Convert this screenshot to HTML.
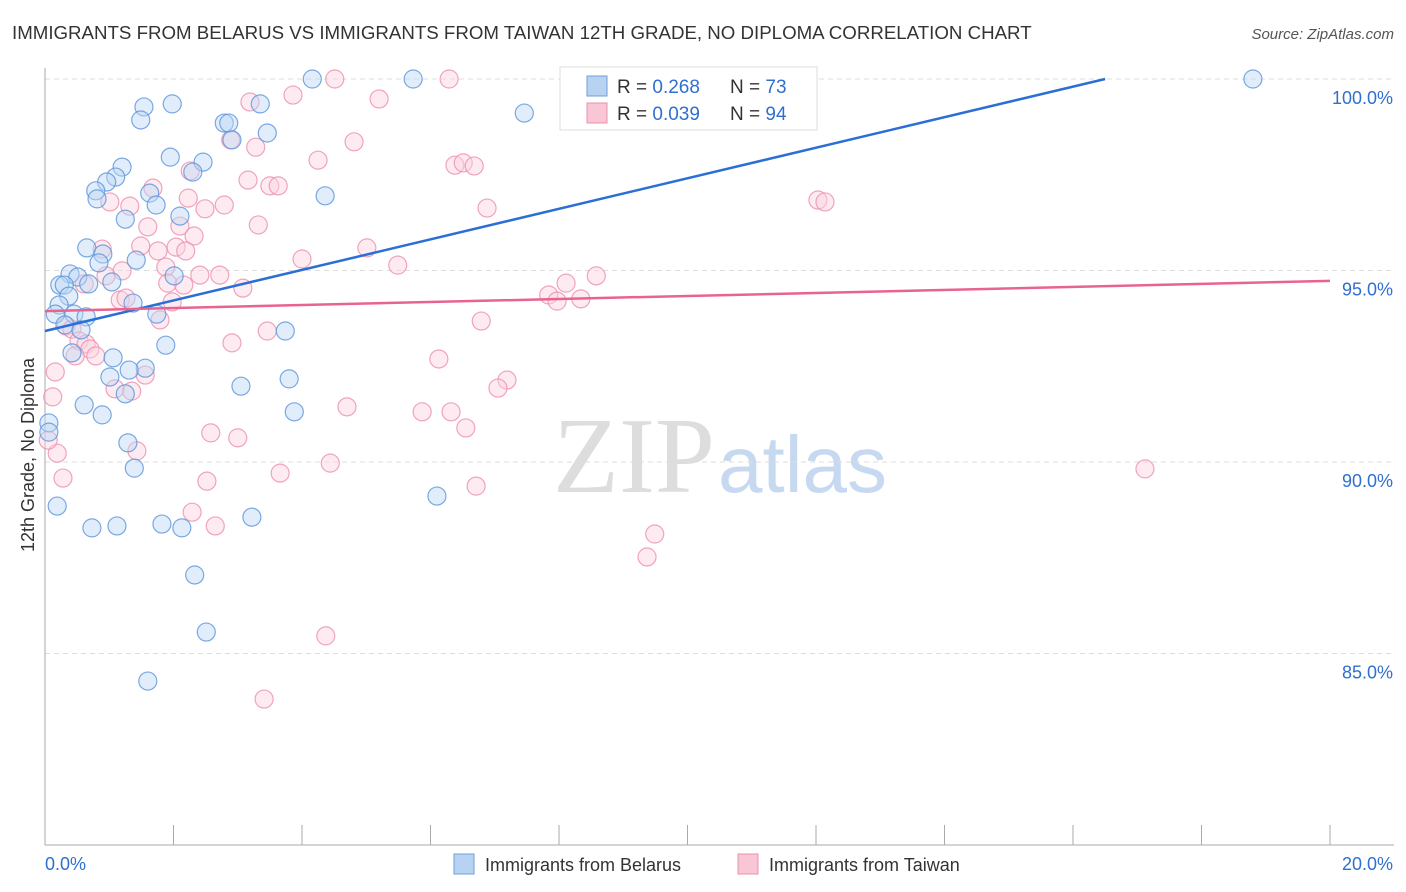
<!DOCTYPE html>
<html><head><meta charset="utf-8"><style>
body{margin:0;background:#fff;font-family:"Liberation Sans",sans-serif}
svg{display:block}
</style></head><body>
<svg id="chart" width="1406" height="892">
<text x="12" y="39" font-size="18.7" fill="#333">IMMIGRANTS FROM BELARUS VS IMMIGRANTS FROM TAIWAN 12TH GRADE, NO DIPLOMA CORRELATION CHART</text>
<text x="1394" y="39" font-size="15" fill="#555" font-style="italic" text-anchor="end">Source: ZipAtlas.com</text>
<text x="0" y="0" transform="translate(34,455) rotate(-90)" font-size="18" fill="#333" text-anchor="middle">12th Grade, No Diploma</text>
<g><text x="553" y="492" font-size="108" fill="#ddd" font-family="Liberation Serif,serif">ZIP</text><text x="718" y="492" font-size="80" fill="#c7d9f0">atlas</text></g>
<g id="grid"></g><g id="marks"></g>
<g>
<rect x="560" y="67" width="257" height="63" fill="#fff" stroke="#ddd"/>
<rect x="587" y="76" width="20" height="20" fill="#b8d2f2" stroke="#6e9fdc"/>
<rect x="587" y="103" width="20" height="20" fill="#f9c6d5" stroke="#e891ab"/>
<text x="617" y="93" font-size="19" fill="#333">R = <tspan fill="#2f6fd0">0.268</tspan></text>
<text x="730" y="93" font-size="19" fill="#333">N = <tspan fill="#2f6fd0">73</tspan></text>
<text x="617" y="120" font-size="19" fill="#333">R = <tspan fill="#2f6fd0">0.039</tspan></text>
<text x="730" y="120" font-size="19" fill="#333">N = <tspan fill="#2f6fd0">94</tspan></text>
</g>
<g>
<rect x="454" y="854" width="20" height="20" fill="#b8d2f2" stroke="#6e9fdc"/>
<text x="485" y="871" font-size="18" fill="#333">Immigrants from Belarus</text>
<rect x="738" y="854" width="20" height="20" fill="#f9c6d5" stroke="#e891ab"/>
<text x="769" y="871" font-size="18" fill="#333">Immigrants from Taiwan</text>
</g>
</svg>
<script>
const yTicks=[85,90,95,100];
const yTickLabels=["85.0%","90.0%","95.0%","100.0%"];
const xTicks=[0,2,4,6,8,10,12,14,16,18,20];
const belarusX=[4.16,5.73,18.8,7.46,1.54,1.98,3.35,1.49,2.79,2.86,3.46,2.91,1.95,2.46,1.20,2.30,1.10,0.96,0.79,1.63,4.36,0.81,1.73,2.10,1.25,0.65,0.90,1.42,0.84,0.39,0.51,1.04,0.23,0.30,0.68,2.01,0.37,0.22,1.37,0.16,0.45,0.64,1.74,0.31,0.56,3.74,1.88,0.42,1.06,1.56,1.31,1.01,3.80,3.05,1.25,0.61,3.88,0.89,0.06,1.29,0.06,1.39,6.10,0.19,3.22,1.82,1.12,0.73,2.13,2.33,2.51,1.60];
const belarusY=[100,100,100,99.11,99.27,99.35,99.35,98.93,98.85,98.85,98.59,98.41,97.96,97.83,97.70,97.57,97.44,97.31,97.08,97.02,96.95,96.87,96.71,96.42,96.34,95.59,95.43,95.27,95.20,94.91,94.83,94.70,94.62,94.62,94.65,94.86,94.33,94.10,94.15,93.86,93.86,93.79,93.86,93.58,93.45,93.42,93.05,92.85,92.72,92.45,92.40,92.22,92.17,91.98,91.78,91.49,91.31,91.23,91.02,90.50,90.78,89.84,89.11,88.85,88.56,88.38,88.33,88.28,88.28,87.05,85.56,84.28];
const taiwanX=[4.51,6.29,11.75,3.86,5.20,3.19,2.89,4.81,3.28,4.25,6.38,6.51,6.68,3.16,3.50,3.63,1.68,2.26,12.03,12.14,1.01,1.32,2.79,2.49,6.88,2.23,3.32,1.60,2.10,2.32,1.49,0.89,1.76,2.04,2.19,5.01,4.00,5.49,1.88,1.20,0.95,2.41,2.72,8.58,8.11,1.91,2.16,0.61,3.08,7.84,8.34,7.97,1.17,1.26,1.98,1.79,6.79,0.33,0.42,3.46,0.53,0.64,2.91,0.70,0.47,0.79,6.13,0.16,1.56,7.19,7.05,1.09,1.35,0.12,4.70,5.87,6.32,6.55,2.58,3.00,1.43,0.19,0.05,4.44,17.12,3.66,2.52,0.28,6.71,2.29,2.65,9.49,9.37,4.37,3.41];
const taiwanY=[100,100,100,99.58,99.48,99.40,98.41,98.36,98.22,97.88,97.75,97.81,97.73,97.36,97.21,97.21,97.15,97.60,96.84,96.79,96.79,96.68,96.71,96.61,96.63,96.89,96.19,96.14,96.16,95.90,95.64,95.56,95.51,95.61,95.51,95.59,95.30,95.14,95.09,94.99,94.86,94.88,94.88,94.86,94.67,94.67,94.62,94.65,94.54,94.36,94.26,94.20,94.23,94.28,94.18,93.71,93.68,93.55,93.47,93.42,93.16,93.08,93.11,92.95,92.77,92.77,92.69,92.35,92.27,92.14,91.93,91.91,91.85,91.70,91.44,91.31,91.31,90.89,90.76,90.63,90.29,90.23,90.57,89.97,89.82,89.71,89.50,89.58,89.37,88.69,88.33,88.12,87.52,85.46,83.81];
const belarusTrend=[93.42,100.0];
const belarusTrendX=[0,16.5];
const taiwanTrend=[93.94,94.73];
const taiwanTrendX=[0,20];
const NS='http://www.w3.org/2000/svg';
const X=v=>45+v*64.25, Y=v=>845-(v-80)*38.3;
function mk(t,a,p){const e=document.createElementNS(NS,t);for(const k in a)e.setAttribute(k,a[k]);p.appendChild(e);return e;}
const grid=document.getElementById('grid'),marks=document.getElementById('marks');
yTicks.forEach((v,i)=>{
 const l=mk('line',{x1:45,x2:1394,y1:Y(v),y2:Y(v),stroke:'#ddd','stroke-dasharray':'5,4'},grid);
 
 
 const t=mk('text',{x:1393,y:Y(v)+25,'font-size':18,fill:'#2f6fd0','text-anchor':'end'},grid);
 t.textContent=yTickLabels[i];
 
 
});
const ax=mk('line',{x1:45,x2:45,y1:68,y2:845,stroke:'#aaa'},grid);


const bx=mk('line',{x1:45,x2:1394,y1:845,y2:845,stroke:'#aaa'},grid);


xTicks.forEach(v=>{
 const l=mk('line',{x1:X(v),x2:X(v),y1:825,y2:845,stroke:'#aaa'},grid);
 
 
});
const x0=mk('text',{x:45,y:870,'font-size':18,fill:'#2f6fd0'},grid);x0.textContent='0.0%';


const x1=mk('text',{x:1393,y:870,'font-size':18,fill:'#2f6fd0','text-anchor':'end'},grid);x1.textContent='20.0%';


function pts(xs,ys,fill,stroke,name){xs.forEach((x,i)=>{
 const c=mk('circle',{cx:X(x),cy:Y(ys[i]),r:9,fill:fill,'fill-opacity':0.45,stroke:stroke,'stroke-opacity':0.8,'stroke-width':1.2},marks);
 
 
});}
pts(taiwanX,taiwanY,'#fbd3df','#ec8fab','taiwan-point');
pts(belarusX,belarusY,'#bcd6f3','#5b93dc','belarus-point');
const bl=mk('line',{x1:X(belarusTrendX[0]),y1:Y(belarusTrend[0]),x2:X(belarusTrendX[1]),y2:Y(belarusTrend[1]),stroke:'#2b6fd6','stroke-width':2.5},marks);


const tl=mk('line',{x1:X(taiwanTrendX[0]),y1:Y(taiwanTrend[0]),x2:X(taiwanTrendX[1]),y2:Y(taiwanTrend[1]),stroke:'#e8648e','stroke-width':2.5},marks);


</script>
</body></html>
